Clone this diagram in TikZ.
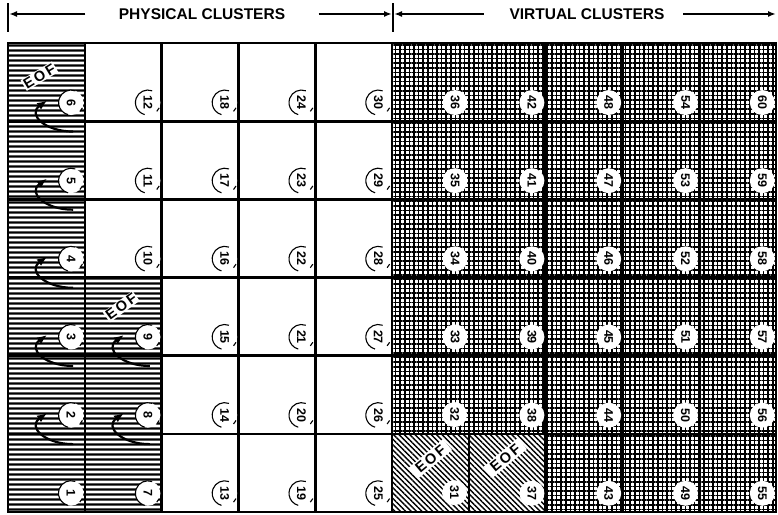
\documentclass[tikz,border=0pt]{standalone}
\usepackage{fontspec}
\setmainfont{Liberation Sans}
\usetikzlibrary{arrows.meta,patterns.meta}
\tikzset{
  >={Latex[length=8pt,width=6pt]},
  hdr/.style={font=\fontsize{15.5}{18}\selectfont\bfseries},
  cell/.style={draw,line width=2.6pt,minimum width=76.8pt,minimum height=78.15pt,inner sep=0pt},
  phys/.style={fill=white},
  lined/.style={pattern={Lines[angle=0,distance=5.4pt,line width=2.4pt]}},
  virt/.style={pattern={Hatch[angle=0,distance=4.6pt,line width=1.5pt]}},
  diag/.style={pattern={Lines[angle=-45,distance=3.8pt,line width=1.4pt]}},
  num/.style={circle,fill=white,inner sep=0pt,minimum size=25pt,rotate=-90,
    font=\fontsize{12.5}{14}\selectfont\bfseries},
  ring/.style={line width=1.1pt},
  eof/.style={fill=white,inner sep=1pt,font=\fontsize{14.5}{17}\selectfont\bfseries},
  turn/.style={-{Latex[length=10pt,width=8pt]},line width=2.2pt},
}

\begin{document}
\begin{tikzpicture}[x=1pt,y=1pt]
\useasboundingbox (0,0) rectangle (778,514);

% ---------- header ----------
\draw[line width=2pt] (8,482) -- (8,511);
\draw[line width=2pt] (393,482) -- (393,511);
\node[hdr] (plab) at (202,500) {PHYSICAL CLUSTERS};
\node[hdr] (vlab) at (587,500) {VIRTUAL CLUSTERS};
\coordinate (pL) at (9,500); \coordinate (pR) at (392,500);
\coordinate (vL) at (394,500); \coordinate (vR) at (776,500);
\draw[->,line width=1.8pt] ([xshift=-30pt]plab.west) -- (pL);
\draw[->,line width=1.8pt] ([xshift=30pt]plab.east) -- (pR);
\draw[->,line width=1.8pt] ([xshift=-22pt]vlab.west) -- (vL);
\draw[->,line width=1.8pt] ([xshift=15pt]vlab.east) -- (vR);

% ---------- clusters ----------
\foreach \c in {1,...,10}{
  \foreach \r in {1,...,6}{
    \pgfmathtruncatemacro{\n}{6*(\c-1)+\r}
    \ifnum\c>5 \def\sty{virt}\else\def\sty{phys}\fi
    \ifnum\c=1 \def\sty{lined}\fi
    \ifnum\n>6 \ifnum\n<10 \def\sty{lined}\fi\fi
    \ifnum\n=31 \def\sty{diag}\fi
    \ifnum\n=37 \def\sty{diag}\fi
    \node[cell,\sty] (cell\n) at ({8+76.8*(\c-0.5)},{2+78.15*(\r-0.5)}) {};
  }
}

% ---------- cluster numbers ----------
\foreach \n in {1,...,60}
  \node[num] (n\n) at ([xshift=-15pt,yshift=20pt]cell\n.south east) {\n};
\foreach \n in {1,...,30}{
  \draw[ring] ([shift={(70:12.5pt)}]n\n.center) arc[start angle=70,end angle=255,radius=12.5pt];
  \draw[ring] ([shift={(-45:12.5pt)}]n\n.center) arc[start angle=-45,end angle=-25,radius=12.5pt];
}

% ---------- chain arrows ----------
\foreach \n in {2,3,4,5,6,8,9}
  \draw[turn] ([xshift=2pt,yshift=-29pt]n\n.center)
    .. controls ([xshift=-26pt,yshift=-29pt]n\n.center) and ([xshift=-44pt,yshift=-12pt]n\n.center)
    .. ([xshift=-24pt,yshift=2pt]n\n.center);

% ---------- end of file marks ----------
\node[eof,rotate=31] (eof6) at ([xshift=-7pt,yshift=6pt]cell6.center) {E\,O\,F};
\node[eof,rotate=36] (eof9) at ([xshift=-2pt,yshift=10pt]cell9.center) {E\,O\,F};
\node[eof,rotate=40,inner xsep=5pt,inner ysep=2pt] (eof31) at ([xshift=0pt,yshift=14pt]cell31.center) {E\,O\,F};
\node[eof,rotate=40,inner xsep=5pt,inner ysep=2pt] (eof37) at ([xshift=-2pt,yshift=15pt]cell37.center) {E\,O\,F};

\end{tikzpicture}
\end{document}
